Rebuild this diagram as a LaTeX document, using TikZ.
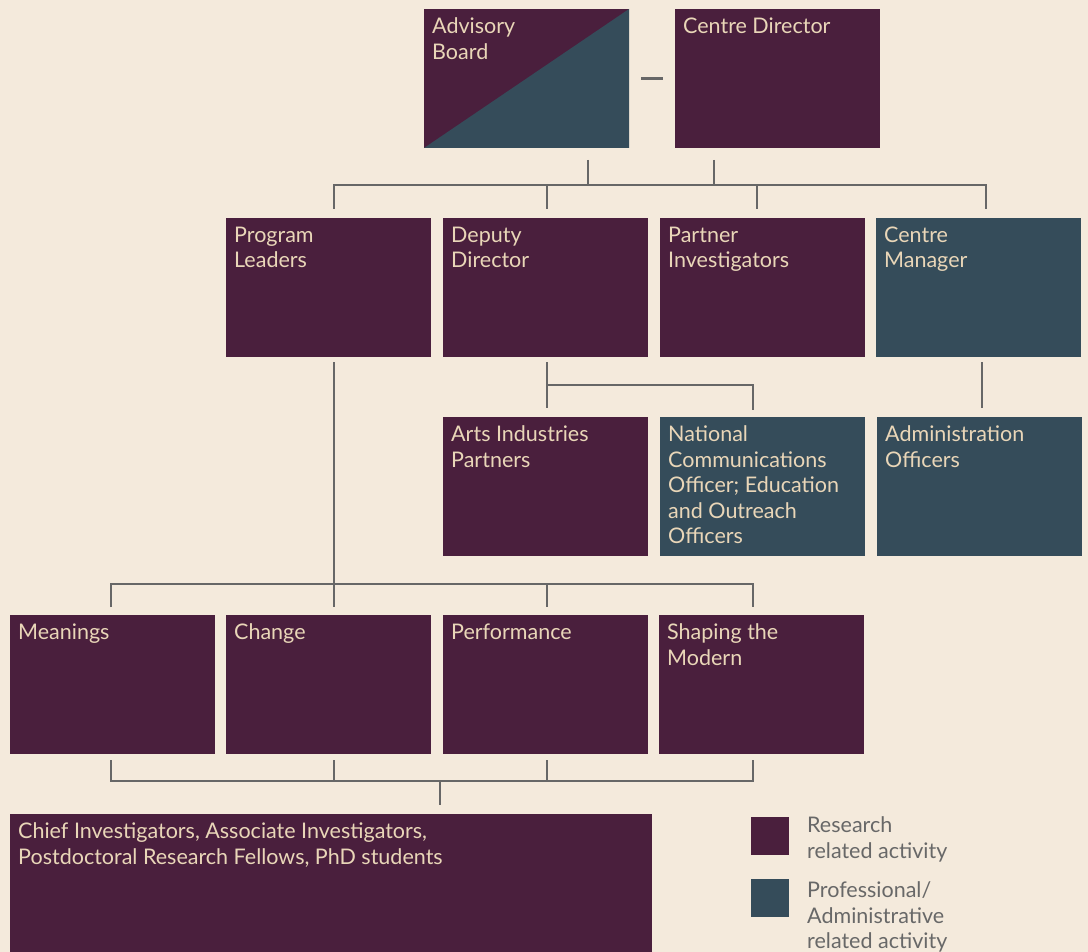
\documentclass[tikz,border=0pt]{standalone}
\usepackage{fontspec}
\setmainfont{Lato}
\usetikzlibrary{calc}
\definecolor{bg}{HTML}{F4EADC}
\definecolor{res}{HTML}{4A1F3D}
\definecolor{adm}{HTML}{354C5A}
\definecolor{txt}{HTML}{E9D6B8}
\definecolor{ln}{HTML}{676767}
\definecolor{lg}{HTML}{686868}
\tikzset{
  box/.style={draw=none, minimum width=205pt, minimum height=139pt, inner sep=0pt, outer sep=0pt, anchor=north west},
  resbox/.style={box, fill=res},
  admbox/.style={box, fill=adm},
  lbl/.style={anchor=north west, inner sep=0pt, text=txt, align=left, font=\fontsize{21.5}{25.5}\selectfont},
  legtxt/.style={anchor=north west, inner sep=0pt, text=lg, align=left, font=\fontsize{21.5}{25.5}\selectfont},
  conn/.style={draw=ln, line width=2.4pt},
}
\newcommand\boxlabel[2]{\node[lbl] at ([shift={(8,8.5)}]#1.north west) {#2};}
\begin{document}
\begin{tikzpicture}[x=1pt,y=-1pt]
\fill[bg] (0,0) rectangle (1088,952);
\useasboundingbox (0,0) rectangle (1088,952);
% row 1
\node[resbox] (ab) at (424,9) {};
\fill[adm] (ab.south west) -- (ab.north east) -- (ab.south east) -- cycle;
\node[resbox] (cd) at (675,9) {};
% row 2
\node[resbox] (pl) at (226,218) {};
\node[resbox] (dd) at (443,218) {};
\node[resbox] (pi) at (660,218) {};
\node[admbox] (cm) at (876,218) {};
% row 3
\node[resbox] (ai) at (443,417) {};
\node[admbox] (nc) at (660,417) {};
\node[admbox] (ao) at (877,417) {};
% row 4
\node[resbox] (me) at (10,615) {};
\node[resbox] (ch) at (226,615) {};
\node[resbox] (pe) at (443,615) {};
\node[resbox] (sm) at (659,615) {};
% bottom
\node[resbox, minimum width=642pt, minimum height=138pt] (ci) at (10,814) {};
% legend
\node[box, fill=res, minimum width=38pt, minimum height=38pt] (lr) at (751,817) {};
\node[box, fill=adm, minimum width=38pt, minimum height=38pt] (la) at (751,879) {};
\node[legtxt] (lrt) at (807,816.5) {Research\\related activity};
\node[legtxt] (lat) at (807,881.5) {Professional/\\Administrative\\related activity};
% labels
\boxlabel{ab}{Advisory\\Board}
\boxlabel{cd}{Centre Director}
\boxlabel{pl}{Program\\Leaders}
\boxlabel{dd}{Deputy\\Director}
\boxlabel{pi}{Partner\\Investigators}
\boxlabel{cm}{Centre\\Manager}
\boxlabel{ai}{Arts Industries\\Partners}
\boxlabel{nc}{National\\Communications\\Officer; Education\\and Outreach\\Officers}
\boxlabel{ao}{Administration\\Officers}
\boxlabel{me}{Meanings}
\boxlabel{ch}{Change}
\boxlabel{pe}{Performance}
\boxlabel{sm}{Shaping the\\Modern}
\boxlabel{ci}{Chief Investigators, Associate Investigators,\\Postdoctoral Research Fellows, PhD students}
% connectors
\draw[conn] ($(ab.east)+(12,0)$) -- ($(cd.west)+(-12,0)$);
\draw[conn] ($(ab.south)+(61.5,12)$) -- ++(0,25);
\draw[conn] ($(cd.south west)+(39,12)$) -- ++(0,25);
\draw[conn] ($(pl.north)+(5.5,-9)$) |- ($(cm.north)+(7.5,-33)$) -- ++(0,24);
\draw[conn] ($(dd.north)+(1.5,-33)$) -- ($(dd.north)+(1.5,-9)$);
\draw[conn] ($(pi.north)+(-5.5,-33)$) -- ($(pi.north)+(-5.5,-9)$);
\draw[conn] ($(dd.south)+(1.5,5)$) -- ($(ai.north)+(1.5,-9)$);
\draw[conn] ($(dd.south)+(1.5,28)$) -| ($(nc.north)+(-9.5,-7)$);
\draw[conn] ($(cm.south)+(3.5,5)$) -- ($(ao.north)+(2.5,-9)$);
\draw[conn] ($(pl.south)+(5.5,5)$) -- ($(ch.north)+(5.5,-8)$);
\draw[conn] ($(me.north)+(-1.5,-8)$) |- ($(sm.north)+(-8.5,-31)$) -- ++(0,23);
\draw[conn] ($(pe.north)+(1.5,-31)$) -- ++(0,23);
\draw[conn] ($(me.south)+(-1.5,6)$) |- ($(sm.south)+(-8.5,27)$) -- ++(0,-21);
\draw[conn] ($(ch.south)+(5.5,6)$) -- ++(0,21);
\draw[conn] ($(pe.south)+(1.5,6)$) -- ++(0,21);
\draw[conn] ($(ci.north)+(109,-33)$) -- ++(0,24);
\end{tikzpicture}
\end{document}
